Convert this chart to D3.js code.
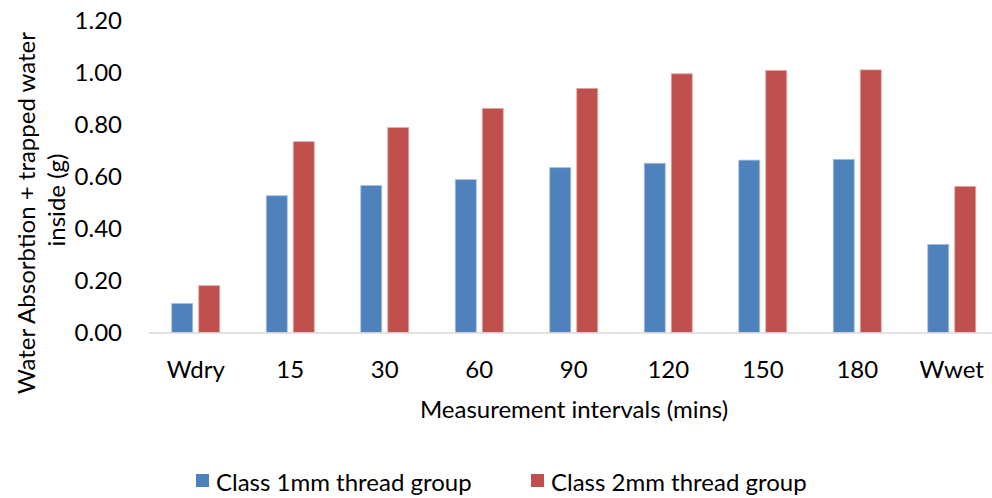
<!DOCTYPE html>
<html>
<head>
<meta charset="utf-8">
<script src="https://cdn.jsdelivr.net/npm/d3@7/dist/d3.min.js"></script>
<style>
  html, body { margin: 0; padding: 0; background: #fff; }
  svg { display: block; }
  text { font-family: Lato, "Open Sans", sans-serif; fill: #000; }
</style>
</head>
<body>
<svg id="chart" width="992" height="498"></svg>
<script>
const categories = ["Wdry", "15", "30", "60", "90", "120", "150", "180", "Wwet"];
const series1 = [0.112, 0.526, 0.565, 0.588, 0.634, 0.651, 0.663, 0.666, 0.339];
const series2 = [0.180, 0.734, 0.788, 0.862, 0.939, 0.995, 1.008, 1.010, 0.562];
const seriesNames = ["Class 1mm thread group", "Class 2mm thread group"];
const yTicks = [0, 0.2, 0.4, 0.6, 0.8, 1.0, 1.2];
const colors = ["#4F81BD", "#C0504D"];

const svg = d3.select("#chart");
const FS = "24px";

const x0 = d3.scaleBand().domain(categories).range([148.5, 999]).paddingInner(0).paddingOuter(0);
const x1 = d3.scaleBand().domain([0, 1]).range([23.25, 71.25]).paddingInner(0.2222).paddingOuter(0);
const y = d3.scaleLinear().domain([0, 1.2]).range([332.5, 20.5]);

// Bars
const data = categories.map((c, i) => ({ cat: c, vals: [series1[i], series2[i]] }));
const groups = svg.append("g").selectAll("g").data(data).join("g")
  .attr("transform", d => `translate(${x0(d.cat)},0)`);
groups.selectAll("rect").data(d => d.vals.map((v, k) => ({ v, k }))).join("rect")
  .attr("x", d => x1(d.k))
  .attr("width", x1.bandwidth())
  .attr("y", d => y(d.v))
  .attr("height", d => y(0) - y(d.v))
  .attr("fill", d => colors[d.k])
  .attr("stroke", d => d.k === 0 ? "#a9c1e2" : "#e2a9a8")
  .attr("stroke-width", 0.8);

// X axis
const xAxis = d3.axisBottom(x0).tickSize(0).tickPadding(0);
const gx = svg.append("g").attr("transform", `translate(0,${y(0)})`).call(xAxis);
gx.select(".domain").attr("stroke", "#d9d9d9").attr("stroke-width", 1.5);
gx.selectAll(".tick text")
  .attr("y", 37)
  .attr("dy", "0.35em")
  .style("font-size", FS)
  .style("font-family", "Lato, sans-serif")
  .attr("fill", "#000");

// Y axis
const yAxis = d3.axisLeft(y).tickValues(yTicks).tickFormat(d3.format(".2f")).tickSize(0).tickPadding(0);
const gy = svg.append("g").attr("transform", "translate(122,0)").call(yAxis);
gy.select(".domain").remove();
gy.selectAll(".tick text")
  .attr("x", 0)
  .attr("dy", "0.35em")
  .style("font-size", FS)
  .style("font-family", "Lato, sans-serif")
  .attr("fill", "#000");

// Axis titles
svg.append("text")
  .attr("x", 574).attr("y", 408)
  .attr("text-anchor", "middle").attr("dominant-baseline", "central")
  .style("font-size", FS)
  .text("Measurement intervals (mins)");

svg.append("text")
  .attr("transform", "translate(25,213) rotate(-90)")
  .attr("text-anchor", "middle").attr("dominant-baseline", "central")
  .style("font-size", FS)
  .text("Water Absorbtion + trapped water");
svg.append("text")
  .attr("transform", "translate(55,200) rotate(-90)")
  .attr("text-anchor", "middle").attr("dominant-baseline", "central")
  .style("font-size", FS)
  .text("inside (g)");

// Legend
const legendX = [196, 531];
const lg = svg.append("g").selectAll("g").data(seriesNames).join("g")
  .attr("transform", (d, i) => `translate(${legendX[i]},481)`);
lg.append("rect").attr("x", 0).attr("y", -7).attr("width", 13).attr("height", 13)
  .attr("fill", (d, i) => colors[i]);
lg.append("text").attr("x", 20).attr("y", 0).attr("dominant-baseline", "central")
  .style("font-size", FS)
  .text(d => d);
</script>
</body>
</html>
